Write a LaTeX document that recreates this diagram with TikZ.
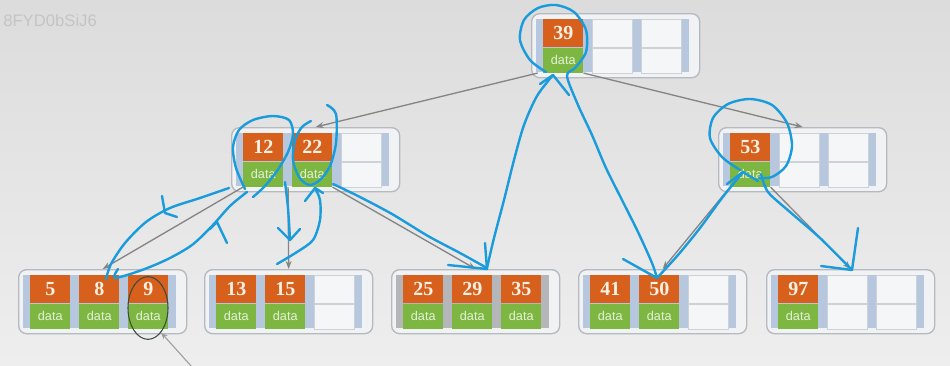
\documentclass[tikz,border=0pt]{standalone}
\usepackage{fontspec}
\setsansfont{Liberation Sans}
\newfontfamily\keyfont{Liberation Serif}
\usetikzlibrary{arrows.meta,shapes.geometric}
\definecolor{keyorange}{HTML}{D6601C}
\definecolor{keytext}{HTML}{FBF0E4}
\definecolor{datagreen}{HTML}{7DB742}
\definecolor{datatext}{HTML}{E4F1D8}
\definecolor{stripblue}{HTML}{B7C8DE}
\definecolor{stripgray}{HTML}{B5B6BA}
\definecolor{cellwhite}{HTML}{F5F6F8}
\definecolor{cellline}{HTML}{CDD2D9}
\definecolor{boxline}{HTML}{B5B9C0}
\definecolor{boxfill}{HTML}{F1F2F4}
\definecolor{penblue}{HTML}{1A9BDB}
\definecolor{linkgray}{HTML}{858585}
\definecolor{ringdark}{HTML}{3C4A42}
\definecolor{bgtop}{HTML}{DCDCDC}
\definecolor{bgbot}{HTML}{EEEEEE}
\definecolor{marktext}{HTML}{C4C4C4}
\tikzset{
  nodebox/.style={draw=boxline, fill=boxfill, rounded corners=6pt, line width=1pt,
    minimum width=126pt, minimum height=48pt, inner sep=0pt},
  keycell/.style={fill=keyorange, text=keytext, minimum width=30pt, minimum height=21pt,
    inner sep=0pt, font=\keyfont\bfseries\fontsize{15}{15}\selectfont},
  datacell/.style={fill=datagreen, text=datatext, minimum width=30pt, minimum height=18.75pt,
    inner sep=0pt, font=\sffamily\fontsize{9.5}{9.5}\selectfont},
  emptykey/.style={fill=cellwhite, draw=cellline, line width=0.5pt, minimum width=30pt,
    minimum height=21pt, inner sep=0pt},
  emptydata/.style={emptykey, minimum height=18.75pt},
  link/.style={draw=linkgray, line width=1pt, -{Stealth[length=6pt,width=4.5pt]}},
  pointer/.style={draw=linkgray!80, line width=0.8pt, -{Stealth[length=5pt,width=4pt]}},
  pen/.style={draw=penblue, line width=1.8pt, line cap=round, line join=round},
  ring/.style={ellipse, draw=ringdark, line width=0.8pt, minimum width=30pt,
    minimum height=47pt, inner sep=0pt},
  watermark/.style={text=marktext, font=\sffamily\fontsize{12.5}{12.5}\selectfont, inner sep=0pt}
}
% one B-tree page: [strip colour] name, x, y of first key cell, keys (0 = free slot)
\newcommand{\btnode}[5][stripblue]{%
  \node[nodebox, anchor=north west] (#2) at (#3-12,#4-6) {};
  \fill[#1] (#3-7,#4) rectangle (#3+146,#4+53);
  \foreach \k [count=\i from 0] in {#5} {
    \ifnum\k=0
      \node[emptykey, anchor=north west] (#2-\i-k) at (#3+49*\i,#4) {};
      \node[emptydata, anchor=north] (#2-\i-d) at (#2-\i-k.south) {};
    \else
      \node[keycell, anchor=north west] (#2-\i-k) at (#3+49*\i,#4) {\k};
      \node[datacell, anchor=north] (#2-\i-d) at (#2-\i-k.south) {data};
    \fi
  }%
}
\begin{document}
\begin{tikzpicture}[x=0.75pt,y=-0.75pt]
\useasboundingbox (0,0) rectangle (950,365);
\shade[top color=bgtop, bottom color=bgbot] (0,0) rectangle (950,365);
\node[watermark, anchor=west] (wm) at (3,21) {8FYD0bSiJ6};

% pages
\btnode{root}{543}{19}{39,0,0}
\btnode{l2a}{243}{133}{12,22,0}
\btnode{l2b}{730}{133}{53,0,0}
\btnode{leafa}{30}{275}{5,8,9}
\btnode{leafb}{216}{275}{13,15,0}
\btnode[stripgray]{leafc}{403}{275}{25,29,35}
\btnode{leafd}{590}{275}{41,50,0}
\btnode{leafe}{778}{275}{97,0,0}

% child pointers
\draw[link] ([xshift=-4pt]root-0-d.south west) -- (l2a.north);
\draw[link] (root-0-d.south east) -- (l2b.north);
\draw[link] (l2a-0-d.south west) -- (leafa.north);
\draw[link] ([xshift=3.4pt]l2a-0-d.south east) -- (leafb.north);
\draw[link] (l2a-1-d.south east) -- (leafc.north);
\draw[link] (l2b-0-d.south west) -- (leafd.north);
\draw[link] (l2b-0-d.south east) -- (leafe.north);

% marked slot
\node[ring] (ring) at (148,308) {};
\coordinate (ptrfoot) at (192,367);
\draw[pointer] (ptrfoot) -- (ring.-62);

% hand-drawn search path
\draw[pen] plot[smooth] coordinates {(546,72) (530,60) (520,40) (524,20) (538,8) (556,5) (574,12) (586,30) (586,52) (575,68) (567,76) (578,105) (592,135) (606,168) (622,200) (638,232) (652,263) (657,278)};
\draw[pen] (540,84) -- (553,75) -- (569,95);
\draw[pen] plot[smooth] coordinates {(487,268) (494,238) (504,200) (514,160) (524,125) (537,96) (553,75)};
\draw[pen] plot[smooth] coordinates {(333,184) (358,196) (392,214) (428,236) (460,253) (487,268)};
\draw[pen] (448,265) -- (487,269) -- (485,243);
\draw[pen] (623,259) -- (657,278);
\draw[pen] plot[smooth] coordinates {(743,172) (722,198) (700,228) (678,255) (657,278)};
\draw[pen] (727,184) -- (743,172) -- (758,181);
\draw[pen] plot[smooth] coordinates {(740,170) (722,157) (710,138) (713,118) (728,104) (750,99) (772,105) (787,123) (792,146) (786,166) (772,177) (759,178)};
\draw[pen] plot[smooth] coordinates {(761,174) (768,192) (790,212) (820,238) (852,270)};
\draw[pen] (821,266) -- (852,270) -- (858,228);
\draw[pen] plot[smooth] coordinates {(245,189) (236,168) (233,147) (239,130) (253,120) (273,116) (289,120) (293,134) (288,152) (277,171) (264,187) (253,197)};
\draw[pen] plot[smooth] coordinates {(327,105) (336,114) (336,143) (330,166) (320,180) (309,185) (299,177) (293,160) (295,140) (302,127) (311,121)};
\draw[pen] plot[smooth] coordinates {(285,182) (288,208) (290,240)};
\draw[pen] (278,228) -- (290,240) -- (300,229);
\draw[pen] plot[smooth] coordinates {(277,264) (297,252) (313,240) (320,220) (320,200) (315,188)};
\draw[pen] (305,201) -- (315,188) -- (323,193);
\draw[pen] plot[smooth] coordinates {(229,188) (200,198) (170,208) (146,222) (125,243) (111,264) (106,279)};
\draw[pen] (162,196) -- (165,213) -- (177,217);
\draw[pen] plot[smooth] coordinates {(118,269) (115,278) (142,270) (168,259) (192,245) (212,226) (230,206) (247,192)};
\draw[pen] (210,229) -- (217,222) -- (227,243);
\end{tikzpicture}
\end{document}
